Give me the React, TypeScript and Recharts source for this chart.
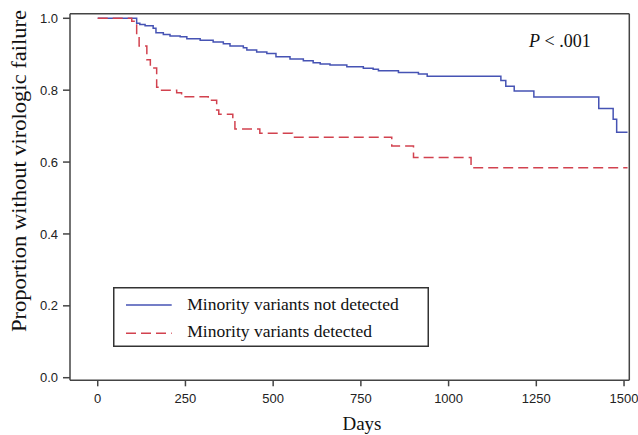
import { Legend, Line, LineChart, ReferenceLine, XAxis, YAxis } from "recharts";

// Kaplan-Meier steps (day, survival)
const notDetectedDays = [0, 111, 120, 135, 158, 166, 187, 206, 235, 254, 292, 329, 358, 377, 415, 425, 453, 482, 508, 548, 586, 614, 634, 662, 710, 757, 785, 800, 857, 914, 939, 1149, 1163, 1187, 1243, 1428, 1469, 1479, 1510];
const notDetectedSurv = [1.0, 0.986, 0.983, 0.979, 0.972, 0.96, 0.955, 0.951, 0.949, 0.943, 0.939, 0.934, 0.929, 0.923, 0.918, 0.912, 0.906, 0.902, 0.893, 0.887, 0.882, 0.876, 0.873, 0.87, 0.865, 0.861, 0.858, 0.854, 0.849, 0.845, 0.839, 0.827, 0.811, 0.798, 0.781, 0.749, 0.719, 0.683, 0.683];

const detectedDays = [0, 97, 111, 118, 140, 150, 168, 178, 225, 239, 315, 339, 345, 385, 391, 462, 555, 838, 900, 1064, 1510];
const detectedSurv = [1.0, 0.992, 0.95, 0.923, 0.885, 0.862, 0.808, 0.8, 0.793, 0.782, 0.772, 0.745, 0.733, 0.724, 0.692, 0.68, 0.669, 0.645, 0.613, 0.584, 0.584];

const xTicks = [0, 250, 500, 750, 1000, 1250, 1500];
const yTicks = [0, 0.2, 0.4, 0.6, 0.8, 1.0];

const notDetected = notDetectedDays.map((day, i) => ({ day, surv: notDetectedSurv[i] }));
const detected = detectedDays.map((day, i) => ({ day, surv: detectedSurv[i] }));

const BLUE = "#4653b4";
const RED = "#d2424f";
const AXIS = "#444";
const serif = "'Liberation Serif', 'Times New Roman', serif";
const tickFont = { fontSize: 13, fontFamily: "'Liberation Sans', Arial, sans-serif", fill: "#222" };

const LegendBox = () => (
  <svg width={316} height={60} style={{ display: "block" }}>
    <rect x={0.75} y={0.75} width={314.5} height={58.5} fill="#fff" stroke="#333" strokeWidth={1.5} />
    <line x1={13} x2={58.7} y1={18} y2={18} stroke={BLUE} strokeWidth={1.5} />
    <line x1={13} x2={58.7} y1={46.3} y2={46.3} stroke={RED} strokeWidth={1.5} strokeDasharray="10 5" />
    <text x={74.3} y={22.5} fontFamily={serif} fontSize={17.5} fill="#111">
      Minority variants not detected
    </text>
    <text x={74.3} y={50} fontFamily={serif} fontSize={17.5} fill="#111">
      Minority variants detected
    </text>
  </svg>
);

export default function App() {
  return (
    <div style={{ position: "absolute", left: 0, top: 0, width: 638, height: 435, background: "#fff" }}>
      <LineChart width={638} height={435} margin={{ top: 13.7, right: 8.7, bottom: 0, left: 0 }}>
        <XAxis
          type="number"
          dataKey="day"
          domain={[-79, 1515]}
          ticks={xTicks}
          allowDataOverflow
          height={54.7}
          tickSize={6}
          tickMargin={7}
          stroke={AXIS}
          strokeWidth={1.5}
          tick={tickFont}
        />
        <YAxis
          type="number"
          domain={[-0.0072, 1.0128]}
          ticks={yTicks}
          allowDataOverflow
          width={70}
          tickSize={7}
          tickMargin={5}
          stroke={AXIS}
          strokeWidth={1.5}
          tick={tickFont}
          tickFormatter={(v: number) => v.toFixed(1)}
        />
        <ReferenceLine y={1.0128} stroke={AXIS} strokeWidth={1.5} />
        <ReferenceLine x={1515} stroke={AXIS} strokeWidth={1.5} />
        <Line
          data={notDetected}
          dataKey="surv"
          type="stepAfter"
          stroke={BLUE}
          strokeWidth={1.5}
          dot={false}
          isAnimationActive={false}
        />
        <Line
          data={detected}
          dataKey="surv"
          type="stepAfter"
          stroke={RED}
          strokeWidth={1.5}
          strokeDasharray="10 5"
          dot={false}
          isAnimationActive={false}
        />
        <Legend
          layout="vertical"
          align="center"
          verticalAlign="middle"
          wrapperStyle={{ left: 113, top: 287, width: 316, height: 60 }}
          content={() => <LegendBox />}
        />
        <text
          x={25.7}
          y={171}
          transform="rotate(-90 25.7 171)"
          textAnchor="middle"
          fontFamily={serif}
          fontSize={20}
          textLength={322}
          lengthAdjust="spacingAndGlyphs"
          fill="#111"
        >
          Proportion without virologic failure
        </text>
        <text x={362} y={430} textAnchor="middle" fontFamily={serif} fontSize={19} fill="#111">
          Days
        </text>
        <text x={529} y={46.7} fontFamily={serif} fontSize={18} fill="#111">
          <tspan fontStyle="italic">P</tspan>
          <tspan> &lt; .001</tspan>
        </text>
      </LineChart>
    </div>
  );
}
